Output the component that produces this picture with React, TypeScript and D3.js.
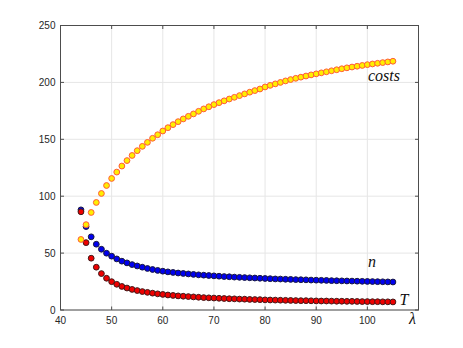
import React from "react";
import * as d3 from "d3";

const lambdas: number[] = d3.range(44, 106);

const costs: number[] = [
  62, 75, 85.7, 94.5, 102.4, 109.4, 115.6, 121.2, 126.5, 131.3,
  135.8, 140, 143.8, 147.3, 150.9, 154, 157.3, 160.2, 162.9, 165.5,
  167.9, 170.2, 172.3, 174.6, 176.7, 178.6, 180.5, 182.2, 183.8, 185.4,
  186.9, 188.4, 189.9, 191.4, 192.8, 194.2, 196, 197.4, 198.7, 200,
  201.3, 202.5, 203.6, 204.6, 205.6, 206.6, 207.5, 208.4, 209.3, 210.2,
  211.1, 212, 212.8, 213.5, 214.2, 214.9, 215.6, 216.2, 216.8, 217.4,
  218, 218.6,
];

const nValues: number[] = [
  88, 73.3, 64.3, 57.8, 53.4, 49.9, 47.3, 44.9, 42.9, 41.4,
  39.9, 38.7, 37.6, 36.5, 35.6, 34.8, 34.1, 33.5, 33, 32.5,
  32.1, 31.7, 31.3, 30.9, 30.6, 30.3, 30, 29.7, 29.4, 29.2,
  28.9, 28.7, 28.5, 28.3, 28.1, 27.9, 27.7, 27.5, 27.3, 27.2,
  27, 26.9, 26.7, 26.6, 26.5, 26.3, 26.2, 26.1, 26, 25.8,
  25.7, 25.6, 25.5, 25.4, 25.3, 25.2, 25.1, 25, 24.9, 24.8,
  24.7, 24.6,
];

const tValues: number[] = [
  86.3, 59.2, 45.5, 37.6, 32, 27.9, 24.9, 22.6, 20.7, 19.3,
  18.1, 17.1, 16.2, 15.5, 14.8, 14.2, 13.7, 13.2, 12.8, 12.4,
  12.1, 11.8, 11.5, 11.2, 10.9, 10.7, 10.5, 10.3, 10.1, 9.9,
  9.8, 9.6, 9.5, 9.3, 9.2, 9.1, 8.9, 8.8, 8.7, 8.6,
  8.5, 8.4, 8.3, 8.2, 8.2, 8.1, 8.0, 7.9, 7.9, 7.8,
  7.7, 7.7, 7.6, 7.6, 7.5, 7.4, 7.4, 7.3, 7.3, 7.2,
  7.2, 7.1,
];

const xTicks: number[] = [40, 50, 60, 70, 80, 90, 100];
const yTicks: number[] = [0, 50, 100, 150, 200, 250];

export default function App() {
  const W = 463, H = 348;
  const left = 60.5, right = 418.5, top = 25.5, bottom = 310;
  const x = d3.scaleLinear().domain([40, 110]).range([left, right]);
  const y = d3.scaleLinear().domain([0, 250]).range([bottom, top]);
  const axisColor = "#4d4d4d";
  const textColor = "#262626";
  const gridColor = "#e6e6e6";
  const tick = 3.5;
  const r = 2.9;

  const series = [
    { data: nValues, fill: "#0000ee", stroke: "#1a1a40" },
    { data: tValues, fill: "#ee0000", stroke: "#401a1a" },
    { data: costs, fill: "#ffee00", stroke: "#ff5a3a" },
  ];

  return (
    <svg width={W} height={H} style={{ position: "absolute", left: 0, top: 0, background: "#fff" }}>
      {xTicks.map((t) => (
        <line key={"gx" + t} x1={x(t)} x2={x(t)} y1={top} y2={bottom} stroke={gridColor} strokeWidth={1} />
      ))}
      {yTicks.map((t) => (
        <line key={"gy" + t} x1={left} x2={right} y1={y(t)} y2={y(t)} stroke={gridColor} strokeWidth={1} />
      ))}
      <rect x={left} y={top} width={right - left} height={bottom - top} fill="none" stroke={axisColor} strokeWidth={1} />
      {xTicks.map((t) => (
        <g key={"tx" + t}>
          <line x1={x(t)} x2={x(t)} y1={bottom} y2={bottom - tick} stroke={axisColor} />
          <line x1={x(t)} x2={x(t)} y1={top} y2={top + tick} stroke={axisColor} />
          <text x={x(t)} y={bottom + 14} textAnchor="middle" fontFamily="Liberation Sans, Arial, sans-serif" fontSize={10} fill={textColor}>
            {t}
          </text>
        </g>
      ))}
      {yTicks.map((t) => (
        <g key={"ty" + t}>
          <line x1={left} x2={left + tick} y1={y(t)} y2={y(t)} stroke={axisColor} />
          <line x1={right} x2={right - tick} y1={y(t)} y2={y(t)} stroke={axisColor} />
          <text x={left - 5} y={y(t) + 3.5} textAnchor="end" fontFamily="Liberation Sans, Arial, sans-serif" fontSize={10} fill={textColor}>
            {t}
          </text>
        </g>
      ))}
      {series.map((s, si) => (
        <g key={"s" + si}>
          {s.data.map((v, i) => (
            <circle key={i} cx={x(lambdas[i])} cy={y(v)} r={r} fill={s.fill} stroke={s.stroke} strokeWidth={1} />
          ))}
        </g>
      ))}
      <text x={368} y={80.5} fontFamily="'Liberation Serif', 'DejaVu Serif', serif" fontStyle="italic" fontSize={16} fill="#111">costs</text>
      <text x={368} y={266.5} fontFamily="'Liberation Serif', 'DejaVu Serif', serif" fontStyle="italic" fontSize={16} fill="#111">n</text>
      <text x={399.5} y={305} fontFamily="'Liberation Serif', 'DejaVu Serif', serif" fontStyle="italic" fontSize={16} fill="#111">T</text>
      <text x={409} y={324} fontFamily="'Liberation Serif', 'DejaVu Serif', serif" fontStyle="italic" fontSize={16} fill="#111">λ</text>
    </svg>
  );
}
